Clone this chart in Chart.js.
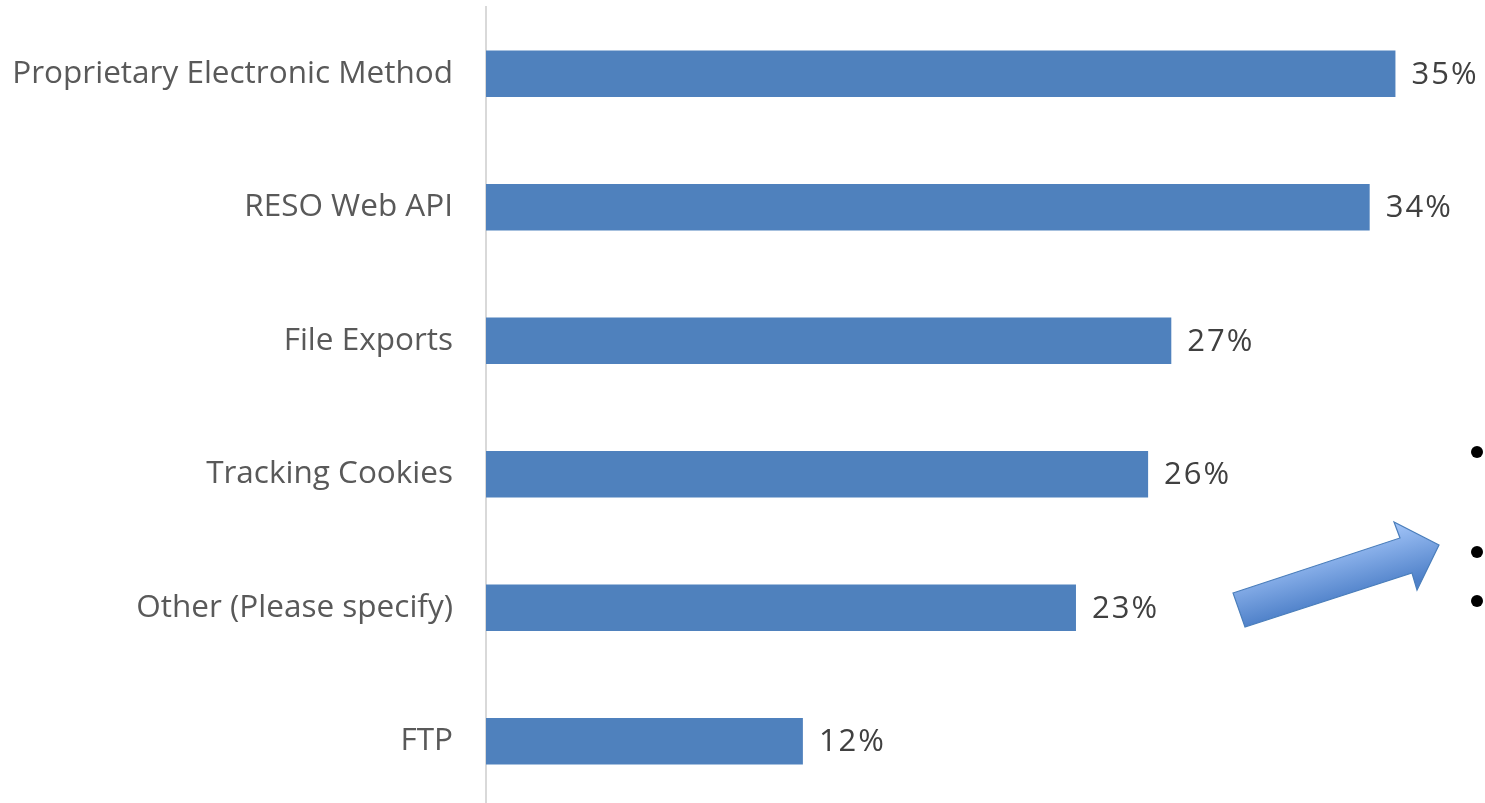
<!DOCTYPE html>
<html>
<head>
<meta charset="utf-8">
<script src="https://cdn.jsdelivr.net/npm/chart.js@4"></script>
<style>
  html, body { margin: 0; padding: 0; background: #fff; overflow: hidden; }
  #wrap { position: relative; width: 1485px; height: 820px; }
</style>
</head>
<body>
<div id="wrap"><canvas id="bar-chart"></canvas></div>
<script>
// Dados do gráfico
var categories = ['Proprietary Electronic Method', 'RESO Web API', 'File Exports', 'Tracking Cookies', 'Other (Please specify)', 'FTP']
var shares = [35.3, 34.3, 26.6, 25.7, 22.9, 12.3]

var colorBar = '#4F81BD'
var fontName = "'Open Sans', sans-serif"

// Rótulos de valor no fim de cada barra
var valueLabels = {
  id: 'valueLabels',
  afterDatasetsDraw(chart) {
    var ctx = chart.ctx
    var meta = chart.getDatasetMeta(0)
    ctx.save()
    ctx.font = '31px ' + fontName
    ctx.letterSpacing = '2px'
    ctx.fillStyle = '#404040'
    ctx.textAlign = 'left'
    ctx.textBaseline = 'middle'
    meta.data.forEach((bar, i) => {
      ctx.fillText(Math.round(shares[i]) + '%', bar.x + 16, bar.y + 1)
    })
    ctx.restore()
  }
}

// Seta e marcadores do slide à direita
var slideDecor = {
  id: 'slideDecor',
  afterDraw(chart) {
    var ctx = chart.ctx
    ctx.save()
    var grad = ctx.createLinearGradient(1330, 545, 1345, 600)
    grad.addColorStop(0, '#9DC0F5')
    grad.addColorStop(1, '#4F81C9')
    ctx.beginPath()
    ctx.moveTo(1233, 593)
    ctx.lineTo(1400, 538)
    ctx.lineTo(1394, 522)
    ctx.lineTo(1439, 545)
    ctx.lineTo(1417, 590)
    ctx.lineTo(1412, 573)
    ctx.lineTo(1245, 627)
    ctx.closePath()
    ctx.fillStyle = grad
    ctx.fill()
    ctx.strokeStyle = '#4A7EBB'
    ctx.lineWidth = 1.2
    ctx.stroke()

    ctx.fillStyle = '#000'
    ;[452, 552, 601].forEach((y) => {
      ctx.beginPath()
      ctx.arc(1477, y, 6, 0, Math.PI * 2)
      ctx.fill()
    })
    ctx.restore()
  }
}

window.onload = function () {
  var el = document.getElementById('bar-chart')
  new Chart(el, {
    type: 'bar',
    data: {
      labels: categories,
      datasets: [{
        data: shares,
        backgroundColor: colorBar,
        borderWidth: 0,
        barPercentage: 0.35,
        categoryPercentage: 1
      }]
    },
    options: {
      indexAxis: 'y',
      responsive: true,
      maintainAspectRatio: false,
      animation: false,
      layout: { padding: { top: 7, bottom: 12, left: 0, right: 20 } },
      plugins: {
        legend: { display: false },
        tooltip: { enabled: false }
      },
      scales: {
        x: {
          display: false,
          min: 0,
          max: 38
        },
        y: {
          afterFit(scale) {
            scale.width = 486
            scale.paddingTop = 0
            scale.paddingBottom = 0
          },
          grid: { display: false, drawTicks: false },
          border: { display: true, color: '#D9D9D9', width: 2 },
          ticks: {
            padding: 33,
            color: '#595959',
            font: { family: fontName, size: 31.5 }
          }
        }
      }
    },
    plugins: [valueLabels, slideDecor]
  })
}
</script>
</body>
</html>
